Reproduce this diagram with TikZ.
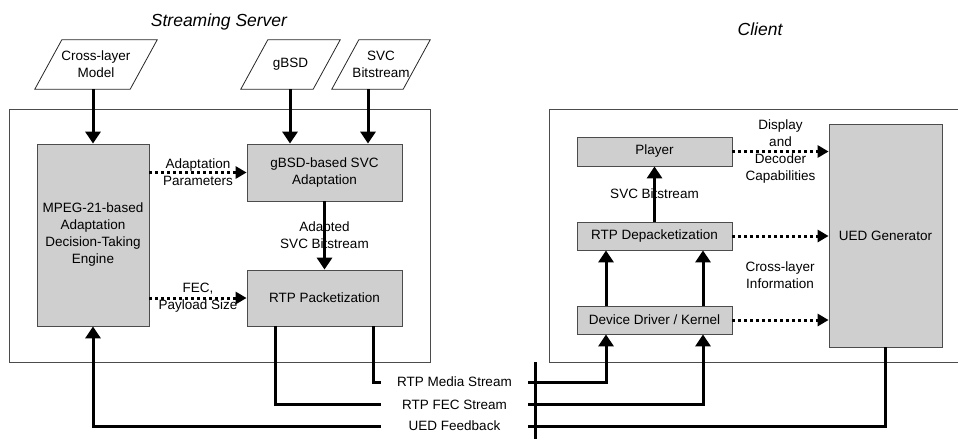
\documentclass[tikz,border=0pt]{standalone}
\usepackage{fontspec}
\setmainfont{Liberation Sans}
\usetikzlibrary{arrows.meta}

\tikzset{
    procbox/.style={draw=black!70, fill=black!19, line width=0.8pt, align=center,
        inner sep=0pt, font=\fontsize{13.5}{17}\selectfont},
    datain/.style={align=center, minimum height=49pt, inner sep=0pt,
        font=\fontsize{13.5}{17}\selectfont},
    frame/.style={draw=black!70, line width=0.8pt},
    flow/.style={line width=3pt, -{Triangle[length=12pt,width=15pt]}},
    ctrl/.style={line width=3pt, dash pattern=on 3pt off 3pt, -{Triangle[length=11pt,width=12pt]}},
    wire/.style={line width=3pt},
    tag/.style={align=center, font=\fontsize{13.5}{17}\selectfont},
    title/.style={font=\fontsize{17.5}{20}\selectfont\itshape},
}

\begin{document}
\begin{tikzpicture}[x=1pt,y=-1pt]
    \useasboundingbox (0,0) rectangle (958,439);

    \node[title] (srvtitle) at (219,22) {Streaming Server};
    \node[title] (clititle) at (760,29) {Client};

    % streaming server
    \draw[frame] (9,109) rectangle (430,362);
    \node[datain, minimum width=95pt] (xlm) at (96,64.5) {Cross-layer\\Model};
    \node[datain, minimum width=72pt] (gbsd) at (290.5,64.5) {gBSD};
    \node[datain, minimum width=71pt] (svc) at (381,64.5) {SVC\\Bitstream};
    \foreach \n in {xlm,gbsd,svc}
        \draw[frame, draw=black!85] ([xshift=13.5pt]\n.north west) -- ([xshift=13.5pt]\n.north east)
            -- ([xshift=-13.5pt]\n.south east) -- ([xshift=-13.5pt]\n.south west) -- cycle;
    \node[procbox, minimum width=112pt, minimum height=182pt] (adte) at (93,235)
        {MPEG-21-based\\Adaptation\\Decision-Taking\\Engine};
    \node[procbox, minimum width=155pt, minimum height=57pt] (adapt) at (324.5,172.5)
        {gBSD-based SVC\\Adaptation};
    \node[procbox, minimum width=155pt, minimum height=56pt] (pack) at (324.5,298)
        {RTP Packetization};

    % client
    \draw[frame] (549,109) rectangle (975,362);
    \node[procbox, minimum width=155pt, minimum height=29pt] (player) at (654.5,151.5) {Player};
    \node[procbox, minimum width=155pt, minimum height=28pt] (depack) at (654.5,236) {RTP Depacketization};
    \node[procbox, minimum width=155pt, minimum height=28pt] (ddrv) at (654.5,320) {Device Driver / Kernel};
    \node[procbox, minimum width=113pt, minimum height=223pt] (uedgen) at (885.5,235.5) {UED Generator};
    \node[tag] (xlinfo) at (780,275) {Cross-layer\\Information};

    % network
    \node[tag, minimum width=147pt, inner sep=0pt] (media) at (454.5,382) {RTP Media Stream};
    \node[tag, minimum width=147pt, inner sep=0pt] (fec) at (454.5,404.5) {RTP FEC Stream};
    \node[tag, minimum width=147pt, inner sep=0pt] (fbk) at (454.5,426) {UED Feedback};
    \draw[wire] (535,362) -- (535,439);

    \coordinate (adapt-in1) at ([xshift=-34.5pt]adapt.north);
    \coordinate (adapt-in2) at ([xshift=43.5pt]adapt.north);
    \coordinate (pack-out1) at ([xshift=-49.5pt]pack.south);
    \coordinate (pack-out2) at ([xshift=48.5pt]pack.south);
    \coordinate (ddrv-in1) at ([xshift=-48.5pt]ddrv.south);
    \coordinate (ddrv-in2) at ([xshift=48.5pt]ddrv.south);

    \draw[flow] (xlm.south -| adte.north) -- (adte.north);
    \draw[flow] (gbsd.south -| adapt-in1) -- (adapt-in1);
    \draw[flow] (svc.south -| adapt-in2) -- (adapt-in2);
    \draw[flow] (adapt.south) -- node[tag] {Adapted\\SVC Bitstream} (pack.north);
    \draw[ctrl] (adte.east |- adapt.west) -- node[tag] {Adaptation\\Parameters} (adapt.west);
    \draw[ctrl] (adte.east |- pack.west) -- node[tag] {FEC,\\Payload Size} (pack.west);

    \draw[wire] (pack-out2) |- (media.west);
    \draw[wire] (pack-out1) |- (fec.west);
    \draw[flow] (media.east) -| (ddrv-in1);
    \draw[flow] (fec.east) -| (ddrv-in2);
    \draw[wire] (uedgen.south) |- (fbk.east);
    \draw[flow] (fbk.west) -| (adte.south);

    \draw[flow] (ddrv.north -| ddrv-in1) -- (depack.south -| ddrv-in1);
    \draw[flow] (ddrv.north -| ddrv-in2) -- (depack.south -| ddrv-in2);
    \draw[flow] (depack.north) -- node[tag] {SVC Bitstream} (player.south);
    \draw[ctrl] (player.east) -- node[tag] {Display\\and\\Decoder\\Capabilities} (player.east -| uedgen.west);
    \draw[ctrl] (depack.east) -- (depack.east -| uedgen.west);
    \draw[ctrl] (ddrv.east) -- (ddrv.east -| uedgen.west);
\end{tikzpicture}
\end{document}
